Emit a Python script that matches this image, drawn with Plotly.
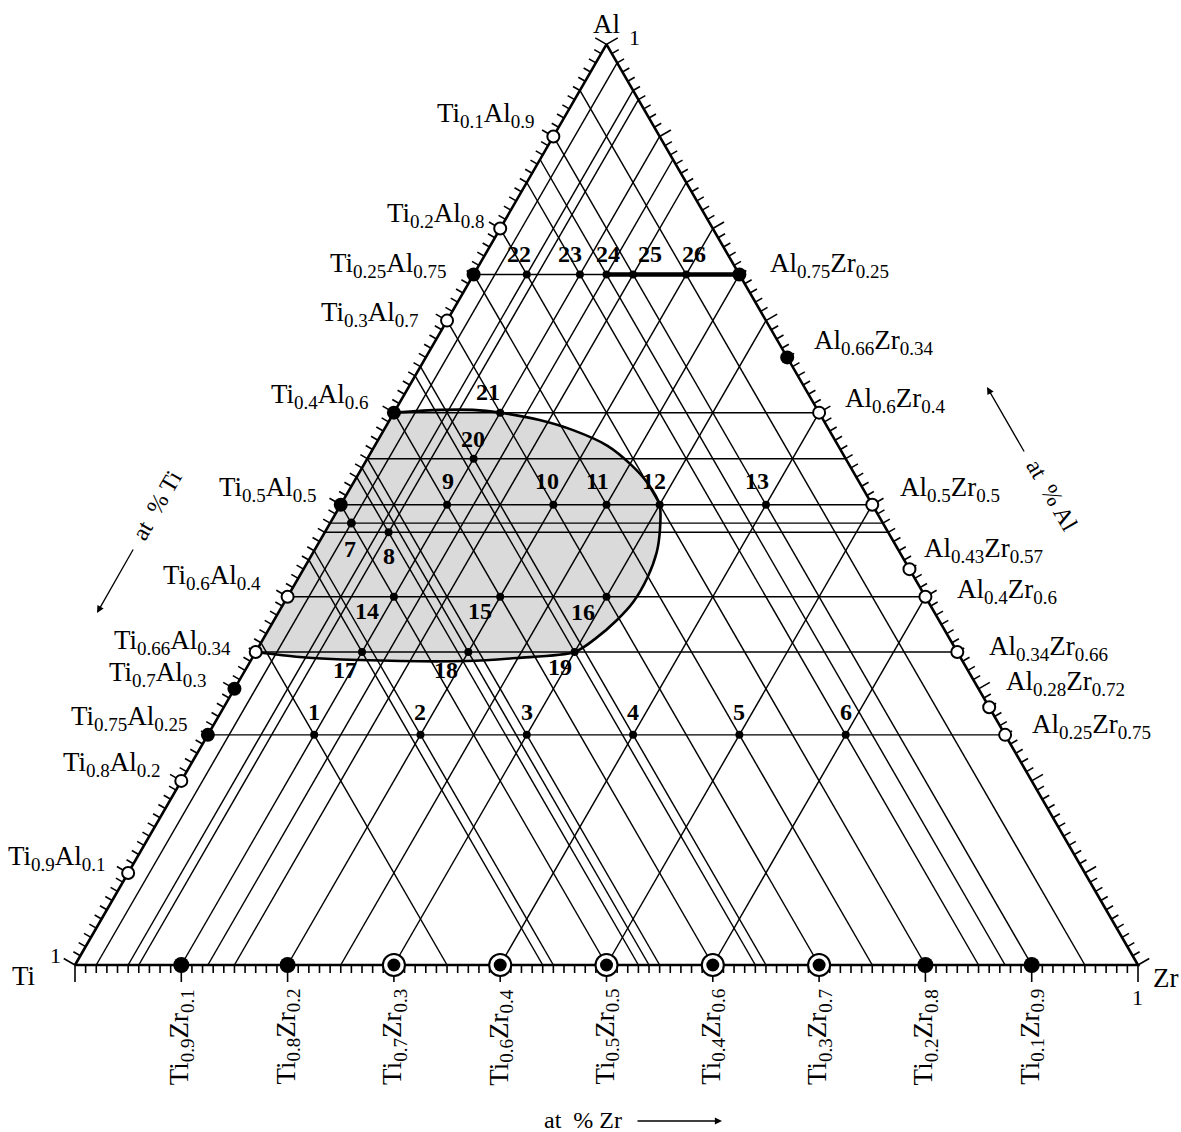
import math
import plotly.graph_objects as go

# ---------------- data (compositions, atomic fractions) ----------------
point_labels = ["1", "2", "3", "4", "5", "6", "7", "8", "9", "10", "11", "12", "13",
                "14", "15", "16", "17", "18", "19", "20", "21", "22", "23", "24", "25", "26"]
point_ti = [0.65, 0.55, 0.45, 0.35, 0.25, 0.15, 0.50, 0.47, 0.40, 0.30, 0.25, 0.20, 0.10,
            0.50, 0.40, 0.30, 0.56, 0.46, 0.36, 0.35, 0.30, 0.20, 0.15, 0.125, 0.10, 0.05]
point_al = [0.25, 0.25, 0.25, 0.25, 0.25, 0.25, 0.48, 0.47, 0.50, 0.50, 0.50, 0.50, 0.50,
            0.40, 0.40, 0.40, 0.34, 0.34, 0.34, 0.55, 0.60, 0.75, 0.75, 0.75, 0.75, 0.75]
point_zr = [0.10, 0.20, 0.30, 0.40, 0.50, 0.60, 0.02, 0.06, 0.10, 0.20, 0.25, 0.30, 0.40,
            0.10, 0.20, 0.30, 0.10, 0.20, 0.30, 0.10, 0.10, 0.05, 0.10, 0.125, 0.15, 0.20]

# iso-concentration lines drawn through the sample points
iso_al = [0.25, 0.34, 0.40, 0.47, 0.48, 0.50, 0.55, 0.60, 0.75]
iso_zr = [0.02, 0.05, 0.06, 0.10, 0.125, 0.15, 0.20, 0.25, 0.30, 0.40, 0.50, 0.60]
iso_ti = [0.05, 0.10, 0.125, 0.15, 0.20, 0.25, 0.30, 0.35, 0.36, 0.40, 0.45, 0.46, 0.47,
          0.50, 0.55, 0.56, 0.65]

# bold segment on the Al = 0.75 line (Zr from .. to)
bold_al = 0.75
bold_zr = [0.125, 0.25]

# Ti-Al binary compositions
tial_ti = [0.1, 0.2, 0.25, 0.3, 0.4, 0.5, 0.6, 0.66, 0.7, 0.75, 0.8, 0.9]
tial_al = [0.9, 0.8, 0.75, 0.7, 0.6, 0.5, 0.4, 0.34, 0.3, 0.25, 0.2, 0.1]
tial_filled = [False, False, True, False, True, True, False, False, True, True, False, False]
tial_sub = [("0.1", "0.9"), ("0.2", "0.8"), ("0.25", "0.75"), ("0.3", "0.7"), ("0.4", "0.6"),
            ("0.5", "0.5"), ("0.6", "0.4"), ("0.66", "0.34"), ("0.7", "0.3"), ("0.75", "0.25"),
            ("0.8", "0.2"), ("0.9", "0.1")]

# Al-Zr binary compositions
alzr_al = [0.75, 0.66, 0.6, 0.5, 0.43, 0.4, 0.34, 0.28, 0.25]
alzr_zr = [0.25, 0.34, 0.4, 0.5, 0.57, 0.6, 0.66, 0.72, 0.75]
alzr_filled = [True, True, False, False, False, False, False, False, False]
alzr_sub = [("0.75", "0.25"), ("0.66", "0.34"), ("0.6", "0.4"), ("0.5", "0.5"), ("0.43", "0.57"),
            ("0.4", "0.6"), ("0.34", "0.66"), ("0.28", "0.72"), ("0.25", "0.75")]

# Ti-Zr binary compositions
tizr_ti = [0.9, 0.8, 0.7, 0.6, 0.5, 0.4, 0.3, 0.2, 0.1]
tizr_zr = [0.1, 0.2, 0.3, 0.4, 0.5, 0.6, 0.7, 0.8, 0.9]
tizr_ringed = [False, False, True, True, True, True, True, False, False]
tizr_sub = [("0.9", "0.1"), ("0.8", "0.2"), ("0.7", "0.3"), ("0.6", "0.4"), ("0.5", "0.5"),
            ("0.4", "0.6"), ("0.3", "0.7"), ("0.2", "0.8"), ("0.1", "0.9")]

# boundary of the shaded (single-phase) region, as (Al, Zr)
region_al = [0.60, 0.603, 0.603, 0.60, 0.592, 0.581, 0.564, 0.543, 0.5225, 0.50, 0.4725,
             0.4486, 0.4215, 0.3943, 0.3748, 0.354, 0.34, 0.3335, 0.3302, 0.3313, 0.3346, 0.34]
region_zr = [0.00, 0.042, 0.073, 0.10, 0.141, 0.178, 0.219, 0.252, 0.278, 0.30, 0.314,
             0.323, 0.328, 0.328, 0.3225, 0.312, 0.30, 0.249, 0.203, 0.1015, 0.044, 0.00]

# ---------------- styling / layout helpers ----------------
FONT = "Liberation Serif"
MAIN_PX = 27
SUB_PX = 19
H = math.sqrt(3) / 2
PXU = 1.0 / 1063.0          # data units per screen pixel
W, HT = 1181, 1132
X0, Y0 = 75, 965            # pixel position of the Ti corner
INK = "#000000"


def tern(ti, al, zr):
    s = ti + al + zr
    return (zr + al / 2.0) / s, (al * H) / s


def P(px, py):
    return (px - X0) * PXU, (Y0 - py) * PXU


def formula(e1, e2, s1, s2):
    m = '<span style="font-size:%dpx">%s</span>'
    s = '<sub><span style="font-size:%dpx">%s</span></sub>'
    return (m % (MAIN_PX, e1) + s % (SUB_PX, s1) + m % (MAIN_PX, e2) + s % (SUB_PX, s2))


fig = go.Figure()

# shaded region
rx, ry = [], []
for a, z in zip(region_al, region_zr):
    x, y = tern(1 - a - z, a, z)
    rx.append(x)
    ry.append(y)
fig.add_trace(go.Scatter(x=rx, y=ry, mode="lines", fill="toself", fillcolor="#dadada",
                         line=dict(width=0, shape="spline", smoothing=0.8, color="#dadada"),
                         hoverinfo="skip"))

# iso-concentration lines
gx, gy = [], []
for a in iso_al:
    for p in (tern(1 - a, a, 0), tern(0, a, 1 - a)):
        gx.append(p[0]); gy.append(p[1])
    gx.append(None); gy.append(None)
for z in iso_zr:
    for p in (tern(1 - z, 0, z), tern(0, 1 - z, z)):
        gx.append(p[0]); gy.append(p[1])
    gx.append(None); gy.append(None)
for t in iso_ti:
    for p in (tern(t, 1 - t, 0), tern(t, 0, 1 - t)):
        gx.append(p[0]); gy.append(p[1])
    gx.append(None); gy.append(None)
fig.add_trace(go.Scatter(x=gx, y=gy, mode="lines", line=dict(color=INK, width=1.45),
                         hoverinfo="skip"))

# region boundary curve
fig.add_trace(go.Scatter(x=rx, y=ry, mode="lines",
                         line=dict(color=INK, width=2.6, shape="spline", smoothing=0.8),
                         hoverinfo="skip"))

# bold segment
bx, by = [], []
for z in bold_zr:
    x, y = tern(1 - bold_al - z, bold_al, z)
    bx.append(x); by.append(y)
fig.add_trace(go.Scatter(x=bx, y=by, mode="lines", line=dict(color=INK, width=4.5),
                         hoverinfo="skip"))

# triangle frame
cx, cy = [], []
for p in (tern(1, 0, 0), tern(0, 0, 1), tern(0, 1, 0), tern(1, 0, 0)):
    cx.append(p[0]); cy.append(p[1])
fig.add_trace(go.Scatter(x=cx, y=cy, mode="lines", line=dict(color=INK, width=2.6),
                         hoverinfo="skip"))

# ticks (every 0.01, longer every 0.1)
tx, ty = [], []
c30, s30 = math.cos(math.radians(30)), math.sin(math.radians(30))
for k in range(101):
    f = k / 100.0
    long_tick = (k % 10 == 0)
    L = (13 if long_tick else 8) * PXU
    x, y = tern(1 - f, f, 0)
    tx += [x, x - c30 * L, None]; ty += [y, y + s30 * L, None]
    x, y = tern(0, f, 1 - f)
    tx += [x, x + c30 * L, None]; ty += [y, y + s30 * L, None]
    Lb = (17 if long_tick else 8) * PXU
    x, y = tern(1 - f, 0, f)
    tx += [x, x, None]; ty += [y, y - Lb, None]
fig.add_trace(go.Scatter(x=tx, y=ty, mode="lines", line=dict(color=INK, width=1.6),
                         hoverinfo="skip"))


def markers(xs, ys, size, fill, lw):
    fig.add_trace(go.Scatter(x=xs, y=ys, mode="markers", hoverinfo="skip",
                             marker=dict(size=size, color=fill, opacity=1,
                                         line=dict(color=INK, width=lw))))


# binary markers: Ti-Al edge
for filled in (True, False):
    xs, ys = [], []
    for t, a, fl in zip(tial_ti, tial_al, tial_filled):
        if fl == filled:
            x, y = tern(t, a, 0); xs.append(x); ys.append(y)
    markers(xs, ys, 14 if filled else 12, INK if filled else "white", 0 if filled else 2)
# Al-Zr edge
for filled in (True, False):
    xs, ys = [], []
    for a, z, fl in zip(alzr_al, alzr_zr, alzr_filled):
        if fl == filled:
            x, y = tern(0, a, z); xs.append(x); ys.append(y)
    markers(xs, ys, 14 if filled else 12, INK if filled else "white", 0 if filled else 2)
# Ti-Zr base
rgx, rgy, px_, py_, qx_, qy_ = [], [], [], [], [], []
for t, z, rg in zip(tizr_ti, tizr_zr, tizr_ringed):
    x, y = tern(t, 0, z)
    if rg:
        rgx.append(x); rgy.append(y)
        qx_.append(x); qy_.append(y)
    else:
        px_.append(x); py_.append(y)
markers(rgx, rgy, 22, "white", 2)
markers(qx_, qy_, 13, INK, 0)
markers(px_, py_, 16, INK, 0)

# sample points
sx, sy, s7x, s7y = [], [], [], []
for lab, t, a, z in zip(point_labels, point_ti, point_al, point_zr):
    x, y = tern(t, a, z)
    if lab == "7":
        s7x.append(x); s7y.append(y)
    else:
        sx.append(x); sy.append(y)
markers(sx, sy, 8, INK, 0)
markers(s7x, s7y, 9, INK, 0)


def add_text(x, y, text, size, xa="center", ya="middle", xs=0, ys=0, angle=0, weight="normal"):
    fig.add_annotation(x=x, y=y, xref="x", yref="y", text=text, showarrow=False,
                       font=dict(family=FONT, size=size, color=INK, weight=weight),
                       xanchor=xa, yanchor=ya, xshift=xs, yshift=ys, textangle=angle)


# label offsets (pixels)
point_label_offsets = [(0, 23), (0, 23), (0, 23), (0, 23), (0, 23), (0, 23),
                       (-1, -26), (0, -24), (1, 24), (-6, 24), (-9, 24), (-6, 24), (-9, 24),
                       (-27, -14), (-20, -14), (-24, -15), (-17, -18), (-22, -18), (-15, -15),
                       (-1, 20), (-12, 21), (-8, 21), (-10, 21), (1, 21), (17, 21), (8, 21)]
tial_offsets = [(-16, 21), (-13, 14), (-25, 10), (-26, 7), (-23, 17), (-22, 16),
                (-25, 20), (-23, 10), (-25, 15), (-18, 17), (-18, 17), (-20, 15)]
alzr_offsets = [(29, 10), (25, 15), (24, 13), (26, 16), (13, 19), (30, 6), (30, 4),
                (15, 24), (25, 9)]

for lab, t, a, z, off in zip(point_labels, point_ti, point_al, point_zr, point_label_offsets):
    x, y = tern(t, a, z)
    add_text(x, y, lab, 24, xs=off[0], ys=off[1], weight="bold")

for t, a, sb, off in zip(tial_ti, tial_al, tial_sub, tial_offsets):
    x, y = tern(t, a, 0)
    add_text(x, y, formula("Ti", "Al", sb[0], sb[1]), MAIN_PX, xa="right", xs=off[0], ys=off[1])

for a, z, sb, off in zip(alzr_al, alzr_zr, alzr_sub, alzr_offsets):
    x, y = tern(0, a, z)
    add_text(x, y, formula("Al", "Zr", sb[0], sb[1]), MAIN_PX, xa="left", xs=off[0], ys=off[1])

for t, z, sb in zip(tizr_ti, tizr_zr, tizr_sub):
    x, y = tern(t, 0, z)
    add_text(x, y, formula("Ti", "Zr", sb[0], sb[1]), MAIN_PX, xa="center", ya="top",
             ys=-22, angle=-90)

# corner labels
add_text(*P(606, 24), "Al", 27)
add_text(*P(634, 37), "1", 22)
add_text(*P(23, 976), "Ti", 27)
add_text(*P(55, 955), "1", 22)
add_text(*P(1165, 978), "Zr", 27)
add_text(*P(1137, 997), "1", 22)

# axis captions
add_text(*P(157, 505), "at  % Ti", 24, angle=-60)
add_text(*P(1052, 495), "at  % Al", 24, angle=60)
add_text(*P(583, 1120), "at  % Zr", 24)


def add_arrow(tail, head):
    hx, hy = P(*head)
    tx_, ty_ = P(*tail)
    fig.add_annotation(x=hx, y=hy, ax=tx_, ay=ty_, xref="x", yref="y", axref="x", ayref="y",
                       text="", showarrow=True, arrowhead=2, arrowsize=1.1, arrowwidth=1.3,
                       arrowcolor=INK)


add_arrow((134, 548), (97, 613))
add_arrow((1025, 453), (987, 387))
add_arrow((636, 1121), (722, 1121))

fig.update_layout(
    width=W, height=HT, autosize=False,
    margin=dict(l=0, r=0, t=0, b=0, pad=0),
    paper_bgcolor="white", plot_bgcolor="white",
    showlegend=False,
    xaxis=dict(range=[-X0 * PXU, (W - X0) * PXU], visible=False, fixedrange=True),
    yaxis=dict(range=[-(HT - Y0) * PXU, Y0 * PXU], visible=False, fixedrange=True),
)

fig.write_html("out.html", config={"displayModeBar": False},
               post_script="document.body.style.margin='0px';")
